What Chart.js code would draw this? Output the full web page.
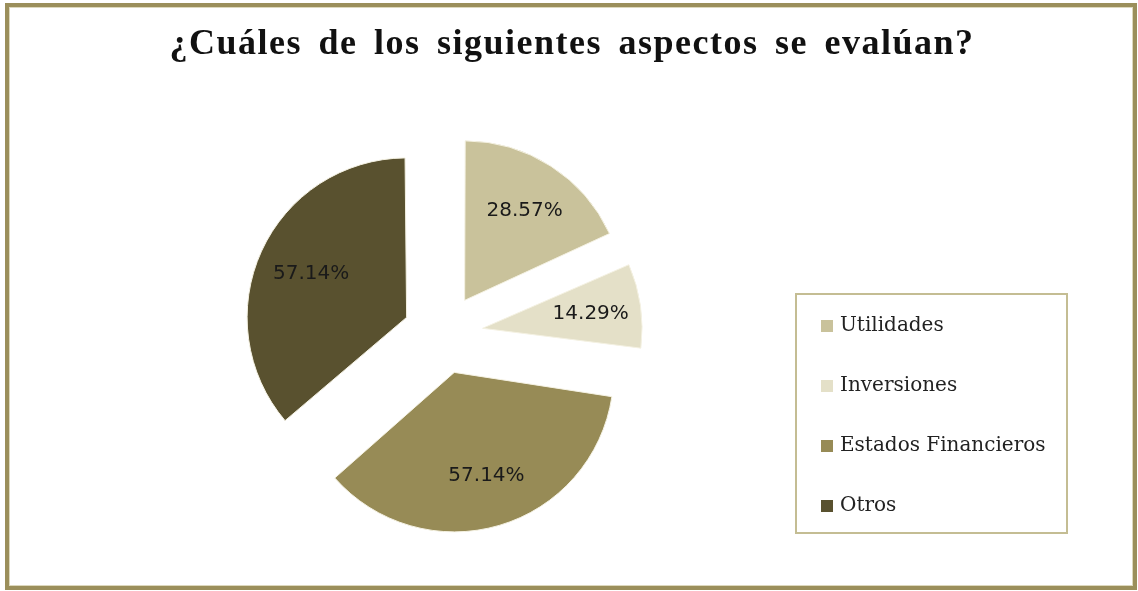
<!DOCTYPE html>
<html>
<head>
<meta charset="utf-8">
<script src="https://cdn.jsdelivr.net/npm/chart.js@4"></script>
<style>
  html, body { margin: 0; padding: 0; background: #fff; }
  #page { position: relative; width: 1138px; height: 591px; overflow: hidden; }
  #frame {
    position: absolute; left: 5px; top: 3px; right: 1px; bottom: 1px;
    border: 4px solid #9b8f5b; box-shadow: inset 0 0 0 1px #ddd8bd;
  }
  canvas { position: absolute; left: 0; top: 0; }
  #title {
    position: absolute; left: 0; width: 1144px; top: 21px; text-align: center;
    font: bold 36px "Liberation Serif", serif; color: #111; letter-spacing: 1.5px; word-spacing: 6px;
  }
  #legend {
    position: absolute; left: 795px; top: 293px; width: 273px; height: 241px;
    border: 2px solid #c4bd93; box-sizing: border-box; background: #fff;
  }
  .item { position: absolute; left: 24px; height: 24px; line-height: 24px;
    font: 20px "DejaVu Serif", serif; color: #222; white-space: nowrap; }
  .item span { display: inline-block; width: 12px; height: 12px; margin-right: 7px; vertical-align: -1px; }
</style>
</head>
<body>
<div id="page">
  <canvas id="pie" width="1138" height="591"></canvas>
  <div id="frame"></div>
  <div id="title">¿Cuáles de los siguientes aspectos se evalúan?</div>
  <div id="legend"></div>
</div>
<script>
const categories = ["Utilidades", "Inversiones", "Estados Financieros", "Otros"];
const values = [28.57, 14.29, 57.14, 57.14];
const valueLabels = ["28.57%", "14.29%", "57.14%", "57.14%"];
const colors = ["#c9c29b", "#e4e0c8", "#978b56", "#59512f"];

const explode = 160; // Chart.js moves each slice by offset / 4

// build the legend box
const legend = document.getElementById("legend");
categories.forEach((name, i) => {
  const row = document.createElement("div");
  row.className = "item";
  row.style.top = (17 + i * 60) + "px";
  row.innerHTML = `<span style="background:${colors[i]}"></span>${name}`;
  legend.appendChild(row);
});

// keep every exploded slice at the same radius
const evenRadius = {
  id: "evenRadius",
  afterDatasetsUpdate(chart) {
    chart.getDatasetMeta(0).data.forEach((arc) => {
      const fix = 1 - Math.sin(Math.min(Math.PI, arc.circumference));
      arc.outerRadius -= (explode / 4) * fix;
    });
  }
};

// percentage labels inside each slice
const sliceLabels = {
  id: "sliceLabels",
  afterDatasetsDraw(chart) {
    const ctx = chart.ctx;
    ctx.save();
    ctx.font = '20px "DejaVu Sans", sans-serif';
    ctx.fillStyle = "#1a1a1a";
    ctx.textAlign = "center";
    ctx.textBaseline = "middle";
    chart.getDatasetMeta(0).data.forEach((arc, i) => {
      const mid = (arc.startAngle + arc.endAngle) / 2;
      const r = explode / 4 + 0.67 * 160;
      ctx.fillText(valueLabels[i], arc.x + 2 + Math.cos(mid) * r, arc.y + 1 + Math.sin(mid) * r);
    });
    ctx.restore();
  }
};

new Chart(document.getElementById("pie"), {
  type: "pie",
  data: {
    labels: categories,
    datasets: [{
      data: values,
      backgroundColor: colors,
      borderColor: "#f4f1e2",
      borderWidth: 1,
      offset: explode,
      hoverOffset: explode
    }]
  },
  options: {
    responsive: false,
    animation: false,
    layout: { padding: { left: 203, right: 455, top: 94, bottom: 17 } },
    plugins: {
      legend: { display: false },
      title: { display: false },
      tooltip: { enabled: false }
    }
  },
  plugins: [evenRadius, sliceLabels]
});
</script>
</body>
</html>
